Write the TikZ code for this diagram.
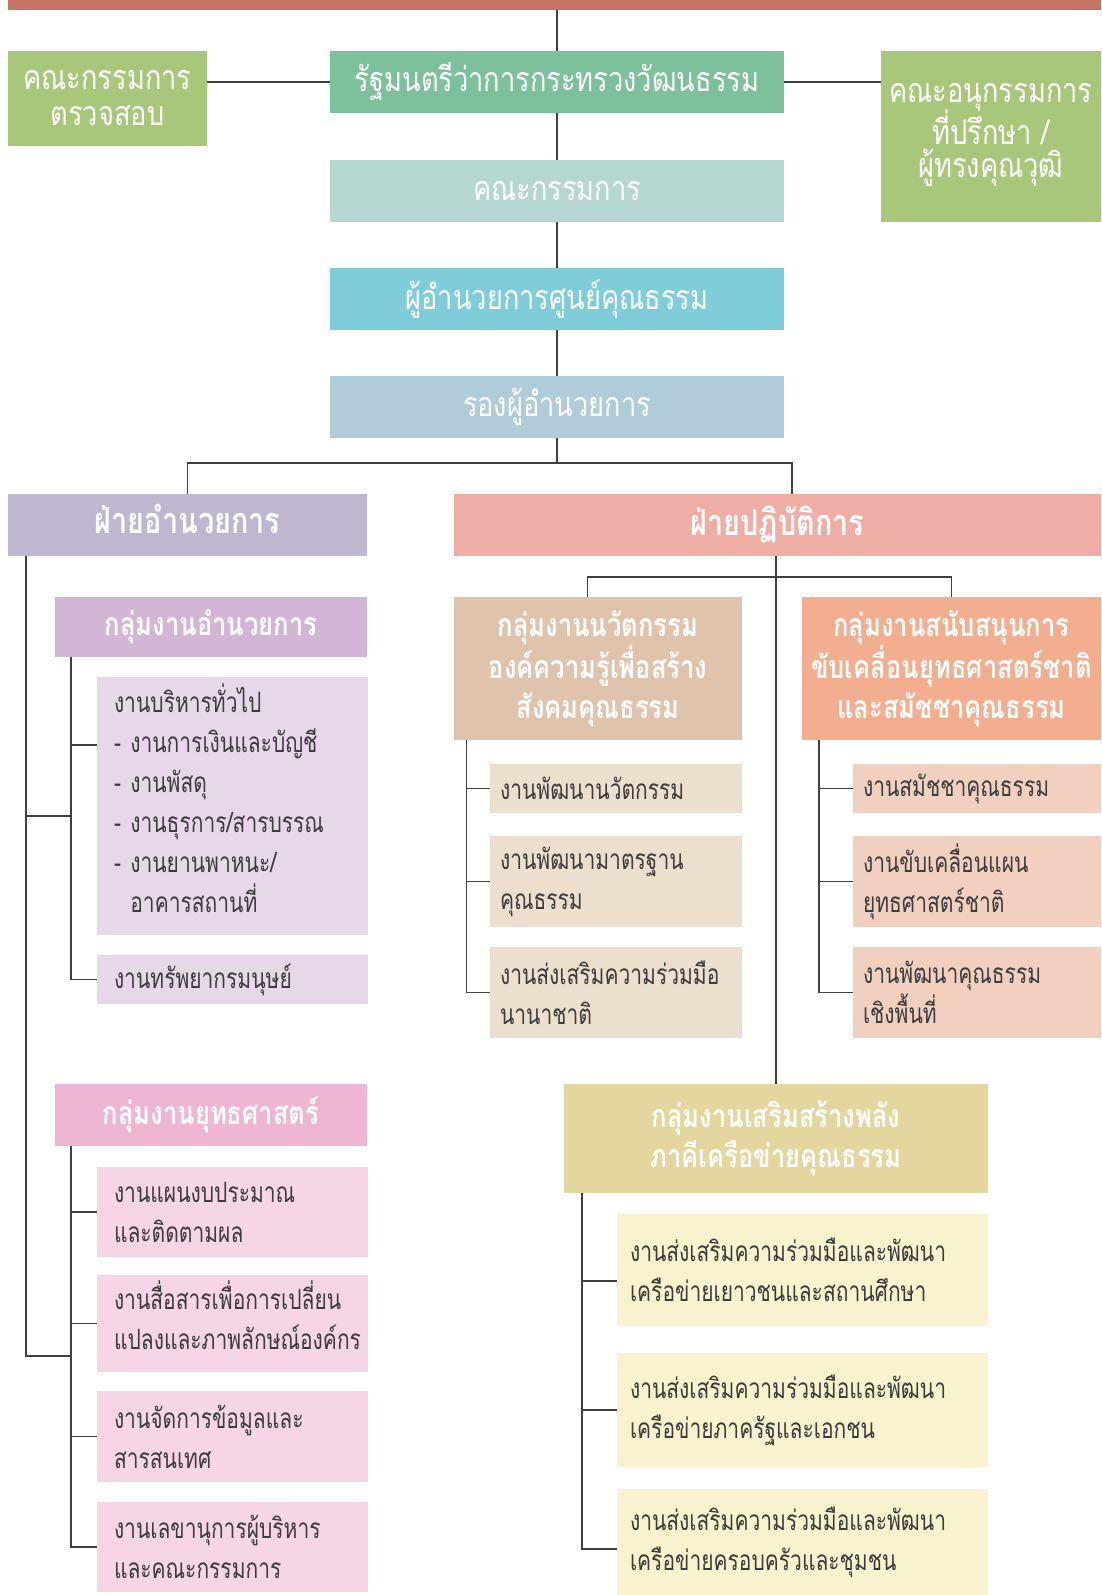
\documentclass[tikz,border=0pt]{standalone}
\usepackage{fontspec}
\newfontfamily\thaifont[Script=Thai, FakeStretch=0.8]{Loma}
\newfontfamily\thaiitem[Script=Thai, FakeStretch=0.75]{Loma}
\usepackage{tikz}
\definecolor{barred}{RGB}{196,117,101}
\definecolor{greenside}{RGB}{169,199,123}
\definecolor{ministergreen}{RGB}{125,193,156}
\definecolor{boardteal}{RGB}{181,214,209}
\definecolor{directorcyan}{RGB}{127,205,216}
\definecolor{deputyblue}{RGB}{176,204,216}
\definecolor{admindiv}{RGB}{191,183,208}
\definecolor{opsdiv}{RGB}{238,174,165}
\definecolor{admgroup}{RGB}{211,181,213}
\definecolor{admitem}{RGB}{230,215,233}
\definecolor{stratgroup}{RGB}{238,182,211}
\definecolor{stratitem}{RGB}{245,213,230}
\definecolor{innogroup}{RGB}{223,195,172}
\definecolor{innoitem}{RGB}{237,223,206}
\definecolor{suppgroup}{RGB}{242,174,143}
\definecolor{suppitem}{RGB}{242,208,192}
\definecolor{netgroup}{RGB}{227,214,158}
\definecolor{netitem}{RGB}{248,243,206}
\definecolor{textgray}{RGB}{60,60,60}
\definecolor{linegray}{RGB}{64,64,64}
\def\lift#1{\rule[-#1pt]{0pt}{0pt}}
\tikzset{orgbox/.style = {anchor=north west, inner sep=0pt, outer sep=0pt}}
\tikzset{topbox/.style = {orgbox, align=center, text=white, font=\thaifont\fontsize{34}{36}\selectfont}}
\tikzset{divbox/.style = {orgbox, align=center, text=white, font=\thaifont\bfseries\fontsize{36}{40}\selectfont}}
\tikzset{headbox/.style = {orgbox, align=center, text=white, font=\thaifont\bfseries\fontsize{32}{40}\selectfont}}
\tikzset{itembox/.style = {orgbox, align=left, text=textgray, font=\thaiitem\fontsize{28}{40}\selectfont}}
\tikzset{conn/.style = {line width=1.3pt, draw=linegray}}

\begin{document}
\begin{tikzpicture}[x=1pt, y=-1pt]
	\useasboundingbox (0,0) rectangle (1101,1595);
	
	% Top bar
	\node[orgbox, fill=barred, minimum width=1093pt, minimum height=10pt] (bar) at (8,0) {};
	
	% Top boxes
	\node[topbox, fill=greenside, minimum width=199pt, minimum height=95pt] (audit) at (8,51) {คณะกรรมการ\\ตรวจสอบ};
	\node[topbox, fill=ministergreen, minimum width=454pt, minimum height=62pt] (minister) at (330,51) {รัฐมนตรีว่าการกระทรวงวัฒนธรรม};
	\node[topbox, fill=greenside, minimum width=220pt, minimum height=171pt] (advisor) at (881,51) {คณะอนุกรรมการ\\[-3pt]ที่ปรึกษา /\\[-3pt]ผู้ทรงคุณวุฒิ\lift{12}};
	\node[topbox, fill=boardteal, minimum width=454pt, minimum height=62pt] (board) at (330,160) {คณะกรรมการ};
	\node[topbox, fill=directorcyan, minimum width=454pt, minimum height=62pt] (director) at (330,268) {ผู้อำนวยการศูนย์คุณธรรม};
	\node[topbox, fill=deputyblue, minimum width=454pt, minimum height=62pt] (deputy) at (330,376) {รองผู้อำนวยการ};
	
	% Divisions
	\node[divbox, fill=admindiv, minimum width=359pt, minimum height=62pt] (admin) at (8,494) {ฝ่ายอำนวยการ\lift{12}};
	\node[divbox, fill=opsdiv, minimum width=647pt, minimum height=62pt] (ops) at (454,494) {ฝ่ายปฏิบัติการ};
	
	% Admin groups
	\node[headbox, fill=admgroup, minimum width=312pt, minimum height=60pt] (admgrp) at (55,597) {กลุ่มงานอำนวยการ};
	\node[itembox, fill=admitem, text width=237pt, inner xsep=17pt, minimum height=258pt] (general) at (97,677) {งานบริหารทั่วไป\\-~งานการเงินและบัญชี\\-~งานพัสดุ\\-~งานธุรการ/สารบรรณ\\-~งานยานพาหนะ/\\\phantom{-~}อาคารสถานที่\lift{15}};
	\node[itembox, fill=admitem, text width=237pt, inner xsep=17pt, minimum height=49pt] (hr) at (97,955) {งานทรัพยากรมนุษย์};
	
	\node[headbox, fill=stratgroup, minimum width=312pt, minimum height=62pt] (strat) at (55,1084) {กลุ่มงานยุทธศาสตร์};
	\node[itembox, fill=stratitem, text width=237pt, inner xsep=17pt, minimum height=90pt] (plan) at (97,1167) {งานแผนงบประมาณ\\และติดตามผล};
	\node[itembox, fill=stratitem, text width=237pt, inner xsep=17pt, minimum height=97pt] (comm) at (97,1275) {งานสื่อสารเพื่อการเปลี่ยน\\แปลงและภาพลักษณ์องค์กร\lift{16}};
	\node[itembox, fill=stratitem, text width=237pt, inner xsep=17pt, minimum height=91pt] (data) at (97,1391) {งานจัดการข้อมูลและ\\สารสนเทศ};
	\node[itembox, fill=stratitem, text width=237pt, inner xsep=17pt, minimum height=90pt] (secr) at (97,1502) {งานเลขานุการผู้บริหาร\\และคณะกรรมการ};
	
	% Operation groups
	\node[headbox, fill=innogroup, minimum width=288pt, minimum height=143pt] (inno) at (454,597) {กลุ่มงานนวัตกรรม\\องค์ความรู้เพื่อสร้าง\\สังคมคุณธรรม};
	\node[itembox, fill=innoitem, text width=232pt, inner xsep=10pt, minimum height=49pt] (innodev) at (490,764) {งานพัฒนานวัตกรรม};
	\node[itembox, fill=innoitem, text width=232pt, inner xsep=10pt, minimum height=91pt] (standard) at (490,836) {งานพัฒนามาตรฐาน\\คุณธรรม};
	\node[itembox, fill=innoitem, text width=232pt, inner xsep=10pt, minimum height=91pt] (intl) at (490,947) {งานส่งเสริมความร่วมมือ\\นานาชาติ};
	
	\node[headbox, fill=suppgroup, minimum width=299pt, minimum height=143pt] (support) at (802,597) {กลุ่มงานสนับสนุนการ\\ขับเคลื่อนยุทธศาสตร์ชาติ\\และสมัชชาคุณธรรม};
	\node[itembox, fill=suppitem, text width=228pt, inner xsep=10pt, minimum height=49pt] (assembly) at (853,764) {งานสมัชชาคุณธรรม};
	\node[itembox, fill=suppitem, text width=228pt, inner xsep=10pt, minimum height=91pt] (drive) at (853,836) {งานขับเคลื่อนแผน\\ยุทธศาสตร์ชาติ};
	\node[itembox, fill=suppitem, text width=228pt, inner xsep=10pt, minimum height=91pt] (area) at (853,947) {งานพัฒนาคุณธรรม\\เชิงพื้นที่};
	
	\node[headbox, fill=netgroup, minimum width=424pt, minimum height=109pt] (network) at (564,1084) {กลุ่มงานเสริมสร้างพลัง\\ภาคีเครือข่ายคุณธรรม};
	\node[itembox, fill=netitem, text width=345pt, inner xsep=13pt, minimum height=112pt] (youth) at (617,1214) {งานส่งเสริมความร่วมมือและพัฒนา\\เครือข่ายเยาวชนและสถานศึกษา};
	\node[itembox, fill=netitem, text width=345pt, inner xsep=13pt, minimum height=114pt] (public) at (617,1353) {งานส่งเสริมความร่วมมือและพัฒนา\\เครือข่ายภาครัฐและเอกชน};
	\node[itembox, fill=netitem, text width=345pt, inner xsep=13pt, minimum height=106pt] (family) at (617,1489) {งานส่งเสริมความร่วมมือและพัฒนา\\เครือข่ายครอบครัวและชุมชน};
	
	% Top spine
	\draw[conn] (minister.north) -- (minister.north |- bar.south);
	\draw[conn] (minister.south) -- (board.north);
	\draw[conn] (board.south) -- (director.north);
	\draw[conn] (director.south) -- (deputy.north);
	\draw[conn] (audit.east |- minister.west) -- (minister.west);
	\draw[conn] (minister.east) -- (minister.east -| advisor.west);
	
	% Split to divisions
	\draw[conn] (deputy.south) -- ++(0,25) coordinate (split);
	\draw[conn] (admin.north) |- (split) -| ([xshift=14.5pt]ops.north);
	
	% Admin division
	\coordinate (ms) at ([xshift=18pt]admin.south west);
	\coordinate (aj) at ([xshift=16pt, yshift=-159pt]admgrp.south west);
	\coordinate (sj) at ([xshift=16pt, yshift=-210pt]strat.south west);
	\draw[conn] (ms) |- (sj);
	\draw[conn] (aj) -- (aj -| ms);
	\draw[conn] ([xshift=16pt]admgrp.south west) |- (hr.west);
	\draw[conn] ([xshift=16pt]admgrp.south west) |- ([yshift=-68pt]general.north west);
	\foreach \n in {plan, comm, data, secr}
		\draw[conn] ([xshift=16pt]strat.south west) |- (\n.west);
	
	% Operation division
	\draw[conn] (network.north) -- (network.north |- ops.south);
	\path (ops.south -| network.north) ++(0,21) coordinate (oj);
	\draw[conn] ([xshift=-10.4pt]inno.north) |- (oj) -| (support.north);
	\foreach \n in {innodev, standard, intl}
		\draw[conn] ([xshift=12.6pt]inno.south west) |- (\n.west);
	\foreach \n in {assembly, drive, area}
		\draw[conn] ([xshift=17pt]support.south west) |- (\n.west);
	\draw[conn] ([xshift=18pt]network.south west) |- ([yshift=-11pt]youth.west);
	\draw[conn] ([xshift=18pt]network.south west) |- (public.west);
	\draw[conn] ([xshift=18pt]network.south west) |- ([yshift=-7pt]family.west);
\end{tikzpicture}
\end{document}
